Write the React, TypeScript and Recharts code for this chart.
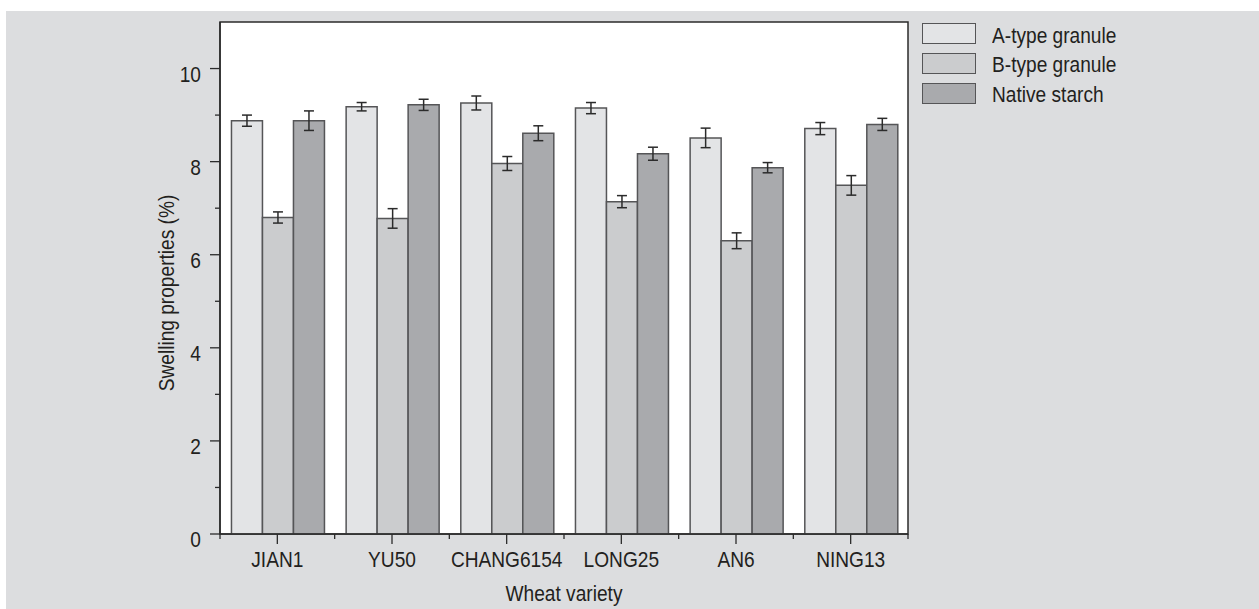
import React from 'react'
import { BarChart, Bar, XAxis, YAxis, CartesianGrid, ErrorBar, Legend, ReferenceArea } from 'recharts'

const varieties = ['JIAN1', 'YU50', 'CHANG6154', 'LONG25', 'AN6', 'NING13']
const aType = [8.88, 9.18, 9.26, 9.15, 8.51, 8.71]
const aTypeErr = [0.12, 0.09, 0.15, 0.12, 0.21, 0.13]
const bType = [6.8, 6.78, 7.96, 7.14, 6.3, 7.49]
const bTypeErr = [0.12, 0.21, 0.15, 0.13, 0.17, 0.21]
const native = [8.88, 9.22, 8.61, 8.17, 7.87, 8.8]
const nativeErr = [0.21, 0.12, 0.16, 0.14, 0.11, 0.13]
const yTicks = [0, 1, 2, 3, 4, 5, 6, 7, 8, 9, 10]

// reference uses a condensed sans; squeeze Liberation Sans horizontally
const FONT = '"Liberation Sans", Arial, sans-serif'
const FS = 22.5
const SQ = 0.85
const TEXT = '#231f20'
const AXIS = '#2b2b2b'
const OUTLINE = '#555557'

const CHART_W = 1253
const CHART_H = 598
const MARGIN = { top: 11, right: 351, bottom: 45, left: 154 }
const Y_AXIS_W = 60
const PLOT_W = CHART_W - MARGIN.left - MARGIN.right - Y_AXIS_W

const data = varieties.map((name, i) => ({
  name,
  a: aType[i],
  aErr: aTypeErr[i],
  b: bType[i],
  bErr: bTypeErr[i],
  n: native[i],
  nErr: nativeErr[i],
}))

function SqText({ x, y, rotate = 0, anchor, children }: any) {
  return (
    <text
      transform={`translate(${x} ${y}) rotate(${rotate}) scale(${SQ} 1)`}
      x={0}
      y={0}
      textAnchor={anchor}
      dominantBaseline="central"
      fontSize={FS}
      fontFamily={FONT}
      fill={TEXT}
    >
      {children}
    </text>
  )
}

function YTick(props: any) {
  const { x, y, payload } = props
  const axisX = x + 19
  const major = payload.value % 2 === 0
  return (
    <g>
      <line x1={axisX - (major ? 10 : 5)} x2={axisX} y1={y} y2={y} stroke={AXIS} strokeWidth={1.3} />
      {major && <SqText x={x} y={y + 5} anchor="end">{payload.value}</SqText>}
    </g>
  )
}

function XTick(props: any) {
  const { x, y, payload, index, visibleTicksCount } = props
  const axisY = y - 10
  const band = PLOT_W / (visibleTicksCount || varieties.length)
  const last = index === (visibleTicksCount || varieties.length) - 1
  return (
    <g>
      <line x1={x} x2={x} y1={axisY} y2={axisY + 10} stroke={AXIS} strokeWidth={1.3} />
      <line x1={x - band / 2} x2={x - band / 2} y1={axisY} y2={axisY + 5} stroke={AXIS} strokeWidth={1.3} />
      {last && <line x1={x + band / 2} x2={x + band / 2} y1={axisY} y2={axisY + 5} stroke={AXIS} strokeWidth={1.3} />}
      <SqText x={x} y={axisY + 25} anchor="middle">{payload.value}</SqText>
    </g>
  )
}

function YLabel(props: any) {
  const { viewBox } = props
  return (
    <SqText x={viewBox.x + 5.5} y={viewBox.y + viewBox.height / 2 + 15} rotate={-90} anchor="middle">
      Swelling properties (%)
    </SqText>
  )
}

function XLabel(props: any) {
  const { viewBox } = props
  return (
    <SqText x={viewBox.x + viewBox.width / 2} y={viewBox.y + 59} anchor="middle">
      Wheat variety
    </SqText>
  )
}

function LegendBox(props: any) {
  const { payload } = props
  return (
    <div style={{ fontFamily: FONT, fontSize: FS, color: TEXT }}>
      {(payload || []).map((entry: any) => (
        <div key={entry.value} style={{ display: 'flex', alignItems: 'center', height: 29.7 }}>
          <div style={{ width: 54, height: 21, flex: 'none', boxSizing: 'border-box', background: entry.color, border: `1.5px solid ${OUTLINE}` }} />
          <span
            style={{
              display: 'inline-block',
              marginLeft: 16,
              marginTop: 4,
              whiteSpace: 'nowrap',
              lineHeight: 1,
              transform: `scaleX(${SQ})`,
              transformOrigin: 'left center',
            }}
          >
            {entry.value}
          </span>
        </div>
      ))}
    </div>
  )
}

export default function App() {
  return (
    <div style={{ position: 'absolute', left: 0, top: 0, width: 1259, height: 609, background: '#fff' }}>
      <div style={{ position: 'absolute', left: 6, top: 11, width: CHART_W, height: CHART_H, background: '#dcdddf' }}>
        <BarChart width={CHART_W} height={CHART_H} data={data} margin={MARGIN} barCategoryGap="10%" barGap={0}>
          <CartesianGrid fill="#ffffff" horizontal={false} vertical={false} />
          <XAxis
            dataKey="name"
            height={30}
            axisLine={{ stroke: AXIS, strokeWidth: 1.5 }}
            tickLine={false}
            tickSize={10}
            tickMargin={0}
            tick={<XTick />}
            interval={0}
            label={<XLabel />}
          />
          <YAxis
            width={Y_AXIS_W}
            domain={[0, 11]}
            ticks={yTicks}
            interval={0}
            axisLine={{ stroke: AXIS, strokeWidth: 1.5 }}
            tickLine={false}
            tickSize={10}
            tickMargin={9}
            tick={<YTick />}
            label={<YLabel />}
          />
          <ReferenceArea y1={0} y2={11} fill="none" stroke={AXIS} strokeWidth={1.5} ifOverflow="visible" />
          <Legend
            layout="horizontal"
            align="center"
            verticalAlign="middle"
            wrapperStyle={{ left: 916, top: 8, width: 'auto' }}
            content={<LegendBox />}
          />
          <Bar dataKey="a" name="A-type granule" fill="#e3e4e6" stroke={OUTLINE} strokeWidth={1.5} isAnimationActive={false}>
            <ErrorBar dataKey="aErr" width={5} stroke="#2b2b2b" strokeWidth={1.5} />
          </Bar>
          <Bar dataKey="b" name="B-type granule" fill="#cbccce" stroke={OUTLINE} strokeWidth={1.5} isAnimationActive={false}>
            <ErrorBar dataKey="bErr" width={5} stroke="#2b2b2b" strokeWidth={1.5} />
          </Bar>
          <Bar dataKey="n" name="Native starch" fill="#a9aaad" stroke={OUTLINE} strokeWidth={1.5} isAnimationActive={false}>
            <ErrorBar dataKey="nErr" width={5} stroke="#2b2b2b" strokeWidth={1.5} />
          </Bar>
        </BarChart>
      </div>
    </div>
  )
}
